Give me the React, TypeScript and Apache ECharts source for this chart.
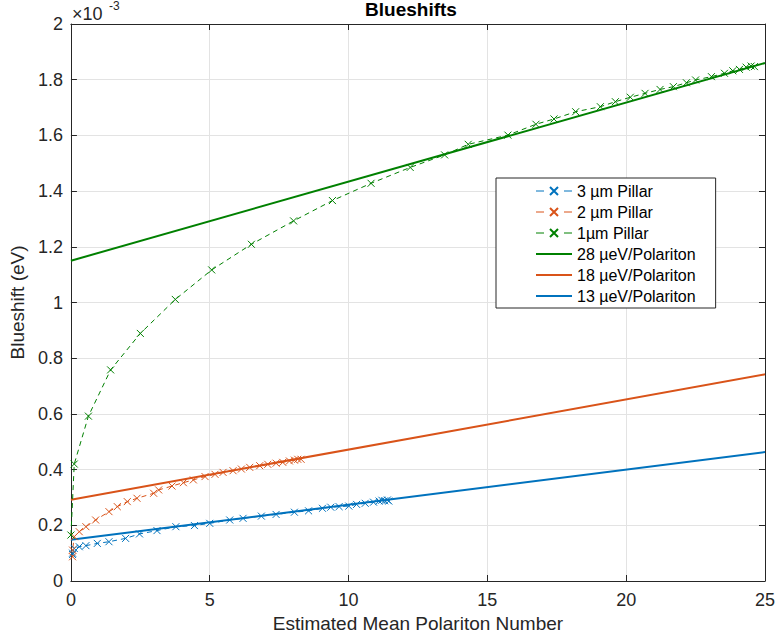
import React, { useEffect, useRef } from "react";
import * as echarts from "echarts";

// Values in units of 1e-3 eV
const pillar3X = [0.06, 0.06, 0.12, 0.3, 0.54, 0.95, 1.37, 1.97, 2.47, 3.1, 3.78, 4.45, 5.0, 5.72, 6.2, 6.86, 7.39, 8.05, 8.56, 9.06, 9.36, 9.66, 10.01, 10.29, 10.6, 10.9, 11.1, 11.2, 11.3, 11.4, 11.45];
const pillar3Y = [0.095, 0.1, 0.117, 0.123, 0.127, 0.135, 0.141, 0.153, 0.169, 0.181, 0.195, 0.199, 0.207, 0.219, 0.225, 0.233, 0.239, 0.247, 0.252, 0.261, 0.265, 0.267, 0.269, 0.275, 0.279, 0.283, 0.287, 0.29, 0.288, 0.291, 0.287];

const pillar2X = [0.06, 0.06, 0.12, 0.3, 0.54, 0.89, 1.37, 1.67, 2.03, 2.38, 2.98, 3.16, 3.64, 4.05, 4.41, 4.83, 5.19, 5.48, 5.84, 6.14, 6.44, 6.8, 7.09, 7.39, 7.63, 7.87, 8.05, 8.17, 8.29];
const pillar2Y = [0.087, 0.111, 0.159, 0.177, 0.195, 0.219, 0.249, 0.267, 0.285, 0.297, 0.315, 0.327, 0.341, 0.353, 0.363, 0.375, 0.383, 0.39, 0.396, 0.402, 0.408, 0.414, 0.419, 0.423, 0.426, 0.431, 0.434, 0.437, 0.437];

const pillar1X = [0.0, 0.12, 0.63, 1.43, 2.5, 3.76, 5.07, 6.5, 8.02, 9.42, 10.81, 12.22, 13.46, 14.31, 15.74, 16.75, 17.4, 18.18, 19.07, 19.61, 20.15, 20.68, 21.22, 21.7, 22.17, 22.5, 23.07, 23.54, 23.84, 24.08, 24.32, 24.5, 24.62];
const pillar1Y = [0.165, 0.42, 0.592, 0.758, 0.889, 1.011, 1.117, 1.209, 1.293, 1.366, 1.428, 1.485, 1.53, 1.568, 1.601, 1.64, 1.659, 1.685, 1.703, 1.721, 1.737, 1.751, 1.765, 1.775, 1.789, 1.799, 1.811, 1.823, 1.832, 1.837, 1.845, 1.849, 1.847];

const fitX = [0, 25];
const fit28Y = [1.15, 1.86];
const fit18Y = [0.292, 0.742];
const fit13Y = [0.148, 0.463];

const yTicks = [0, 0.2, 0.4, 0.6, 0.8, 1, 1.2, 1.4, 1.6, 1.8, 2];

const seriesNames = ["3 µm Pillar", "2 µm Pillar", "1µm Pillar", "28 µeV/Polariton", "18 µeV/Polariton", "13 µeV/Polariton"];

const BLUE = "#0072BD";
const ORANGE = "#D95319";
const GREEN = "#008000";
const CROSS = "path://M0,0L10,10M10,0L0,10";
const FONT = "Liberation Sans, Arial, Helvetica, sans-serif";

function zip(xs: number[], ys: number[]) {
  return xs.map((x, i) => [x, ys[i]]);
}

function pillarSeries(name: string, xs: number[], ys: number[], color: string) {
  return {
    name,
    type: "line",
    data: zip(xs, ys),
    symbol: CROSS,
    symbolSize: 7,
    showSymbol: true,
    lineStyle: { color, width: 1, type: [5, 4] },
    itemStyle: { color: "none", borderColor: color, borderWidth: 1 },
    emphasis: { disabled: true },
    z: 3,
  };
}

function fitSeries(name: string, ys: number[], color: string) {
  return {
    name,
    type: "line",
    data: zip(fitX, ys),
    symbol: "none",
    showSymbol: false,
    lineStyle: { color, width: 2 },
    itemStyle: { color: "none", borderColor: "none", borderWidth: 0 },
    emphasis: { disabled: true },
    z: 2,
  };
}

export default function App() {
  const ref = useRef<HTMLDivElement>(null);
  useEffect(() => {
    if (!ref.current) return;
    const chart = echarts.init(ref.current, null, { renderer: "svg" });
    const axisColor = "#262626";
    const gridColor = "#e3e3e3";
    const legendData = seriesNames.map((n, i) =>
      i < 3
        ? { name: n, lineStyle: { type: [8, 20], width: 1 } }
        : { name: n, itemStyle: { color: "none", borderColor: "none", borderWidth: 0, opacity: 0 } }
    );
    chart.setOption({
      animation: false,
      backgroundColor: "#ffffff",
      textStyle: { fontFamily: FONT },
      title: {
        text: "Blueshifts",
        left: 411,
        textAlign: "center",
        top: 0,
        padding: 0,
        textStyle: { fontFamily: FONT, fontSize: 19, fontWeight: "bold", color: "#000" },
      },
      grid: { left: 70, right: 9, top: 24, bottom: 60, containLabel: false },
      legend: {
        data: legendData,
        orient: "vertical",
        left: 496,
        top: 178,
        backgroundColor: "#ffffff",
        borderColor: "#262626",
        borderWidth: 1,
        borderRadius: 0,
        padding: [5, 20, 4, 39],
        itemWidth: 36,
        itemHeight: 10,
        itemGap: 5,
        align: "left",
        textStyle: { fontFamily: FONT, fontSize: 16, color: "#000" },
        selectedMode: false,
      },
      xAxis: [
        {
          type: "value",
          min: 0,
          max: 25,
          interval: 5,
          position: "bottom",
          name: "Estimated Mean Polariton Number",
          nameLocation: "middle",
          nameGap: 31,
          nameTextStyle: { fontFamily: FONT, fontSize: 19, color: axisColor },
          axisLine: { show: true, onZero: false, lineStyle: { color: axisColor, width: 1 } },
          axisTick: { show: true, inside: true, length: 6, lineStyle: { color: axisColor } },
          axisLabel: { fontFamily: FONT, fontSize: 18, color: axisColor, margin: 10 },
          splitLine: { show: true, lineStyle: { color: gridColor, width: 1 } },
        },
        {
          type: "value",
          min: 0,
          max: 25,
          interval: 5,
          position: "top",
          axisLine: { show: true, onZero: false, lineStyle: { color: axisColor, width: 1 } },
          axisTick: { show: true, inside: true, length: 6, lineStyle: { color: axisColor } },
          axisLabel: { show: false },
          splitLine: { show: false },
        },
      ],
      yAxis: [
        {
          type: "value",
          min: 0,
          max: 2,
          interval: 0.2,
          position: "left",
          name: "Blueshift (eV)",
          nameLocation: "middle",
          nameGap: 40,
          nameRotate: 90,
          nameTextStyle: { fontFamily: FONT, fontSize: 19, color: axisColor },
          axisLine: { show: true, onZero: false, lineStyle: { color: axisColor, width: 1 } },
          axisTick: { show: true, inside: true, length: 6, lineStyle: { color: axisColor } },
          axisLabel: {
            fontFamily: FONT,
            fontSize: 18,
            color: axisColor,
            margin: 8,
            formatter: (v: number) => {
              const t = yTicks.find((k) => Math.abs(k - v) < 1e-9);
              return t === undefined ? "" : String(Math.round(t * 10) / 10);
            },
          },
          splitLine: { show: true, lineStyle: { color: gridColor, width: 1 } },
        },
        {
          type: "value",
          min: 0,
          max: 2,
          interval: 0.2,
          position: "right",
          axisLine: { show: true, onZero: false, lineStyle: { color: axisColor, width: 1 } },
          axisTick: { show: true, inside: true, length: 6, lineStyle: { color: axisColor } },
          axisLabel: { show: false },
          splitLine: { show: false },
        },
      ],
      graphic: [
        {
          type: "text",
          x: 72,
          y: 13.5,
          style: {
            text: "×10",
            fontSize: 18,
            fontFamily: FONT,
            fill: axisColor,
            verticalAlign: "middle",
            align: "left",
          },
        },
        {
          type: "text",
          x: 109,
          y: 6,
          style: {
            text: "-3",
            fontSize: 12,
            fontFamily: FONT,
            fill: axisColor,
            verticalAlign: "middle",
            align: "left",
          },
        },
      ],
      series: [
        pillarSeries(seriesNames[0], pillar3X, pillar3Y, BLUE),
        pillarSeries(seriesNames[1], pillar2X, pillar2Y, ORANGE),
        pillarSeries(seriesNames[2], pillar1X, pillar1Y, GREEN),
        fitSeries(seriesNames[3], fit28Y, GREEN),
        fitSeries(seriesNames[4], fit18Y, ORANGE),
        fitSeries(seriesNames[5], fit13Y, BLUE),
      ],
    });
    return () => chart.dispose();
  }, []);
  return (
    <div
      ref={ref}
      style={{ position: "fixed", left: 0, top: 0, width: 778, height: 641, background: "#fff" }}
    />
  );
}
